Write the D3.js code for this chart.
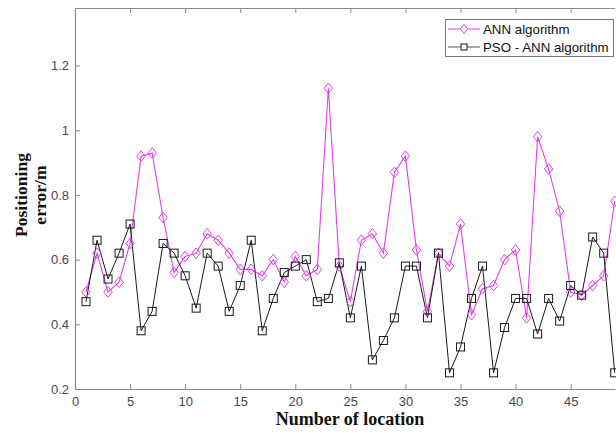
<!DOCTYPE html>
<html>
<head>
<meta charset="utf-8">
<script src="https://cdn.jsdelivr.net/npm/d3@7"></script>
<style>
  body { margin: 0; background: #fff; }
  svg { display: block; }
</style>
</head>
<body>
<svg id="chart" width="616" height="433"></svg>
<script>
// positioning error per location
const locations = d3.range(1, 50);
const annError = [0.50, 0.62, 0.50, 0.53, 0.65, 0.92, 0.93, 0.73, 0.56, 0.61,
                  0.62, 0.68, 0.66, 0.62, 0.57, 0.57, 0.55, 0.60, 0.53, 0.61,
                  0.55, 0.57, 1.13, 0.58, 0.47, 0.66, 0.68, 0.62, 0.87, 0.92,
                  0.63, 0.44, 0.62, 0.58, 0.71, 0.43, 0.51, 0.52, 0.60, 0.63,
                  0.42, 0.98, 0.88, 0.75, 0.50, 0.49, 0.52, 0.55, 0.78];
const psoError = [0.47, 0.66, 0.54, 0.62, 0.71, 0.38, 0.44, 0.65, 0.62, 0.55,
                  0.45, 0.62, 0.58, 0.44, 0.52, 0.66, 0.38, 0.48, 0.56, 0.58,
                  0.60, 0.47, 0.48, 0.59, 0.42, 0.58, 0.29, 0.35, 0.42, 0.58,
                  0.58, 0.42, 0.62, 0.25, 0.33, 0.48, 0.58, 0.25, 0.39, 0.48,
                  0.48, 0.37, 0.48, 0.41, 0.52, 0.49, 0.67, 0.62, 0.25];
const xTicks = [0, 5, 10, 15, 20, 25, 30, 35, 40, 45];
const yTicks = [0.2, 0.4, 0.6, 0.8, 1, 1.2];
const seriesNames = ['ANN algorithm', 'PSO - ANN algorithm'];

const svg = d3.select('#chart');
const plotL = 75, plotT = 8, plotR = 614.7, plotB = 389;

const x = d3.scaleLinear().domain([0, 49]).range([plotL, plotR]);
const y = d3.scaleLinear().domain([0.2, 1.378]).range([plotB, plotT]);

const axisCol = '#8a8a8a', labelCol = '#4a4a4a';

// axes
const gx = svg.append('g').attr('transform', `translate(0,${plotB})`)
    .call(d3.axisBottom(x).tickValues(xTicks).tickSizeInner(-5).tickSizeOuter(0).tickPadding(8));
const gy = svg.append('g').attr('transform', `translate(${plotL},0)`)
    .call(d3.axisLeft(y).tickValues(yTicks).tickFormat(d3.format('~g')).tickSizeInner(-5).tickSizeOuter(0).tickPadding(6));
const gt = svg.append('g').attr('transform', `translate(0,${plotT})`)
    .call(d3.axisTop(x).tickValues(xTicks).tickSizeInner(-5).tickSizeOuter(0).tickFormat(''));

[gx, gy, gt].forEach(g => {
  g.select('.domain').attr('stroke', axisCol).attr('stroke-width', 1.2);
  g.selectAll('.tick line').attr('stroke', axisCol);
  g.selectAll('.tick text').attr('fill', labelCol)
    .style('font-family', 'Liberation Sans, Arial, sans-serif').style('font-size', '13px');
});
gt.selectAll('.tick').filter(d => d === 0).remove();

// lines
const line = d3.line().x((d, i) => x(locations[i])).y(d => y(d));

const annCol = '#e040e8', psoCol = '#1a1a1a';

svg.append('path').datum(annError).attr('d', line)
  .attr('fill', 'none').attr('stroke', annCol).attr('stroke-width', 1.1);
svg.append('path').datum(psoError).attr('d', line)
  .attr('fill', 'none').attr('stroke', psoCol).attr('stroke-width', 1);

const diamond = (cx, cy, s) => `M${cx},${cy - s}L${cx + s * 0.8},${cy}L${cx},${cy + s}L${cx - s * 0.8},${cy}Z`;

svg.append('g').selectAll('path').data(annError).enter().append('path')
  .attr('d', (d, i) => diamond(x(locations[i]), y(d), 5.3))
  .attr('fill', 'none').attr('stroke', annCol).attr('stroke-width', 1);

svg.append('g').selectAll('rect').data(psoError).enter().append('rect')
  .attr('x', (d, i) => x(locations[i]) - 4).attr('y', d => y(d) - 4)
  .attr('width', 8).attr('height', 8)
  .attr('fill', 'none').attr('stroke', psoCol).attr('stroke-width', 1);

// legend
const lg = svg.append('g');
lg.append('rect').attr('x', 445.5).attr('y', 19.5).attr('width', 168).attr('height', 37)
  .attr('fill', '#fff').attr('stroke', '#777').attr('stroke-width', 1);
seriesNames.forEach((name, i) => {
  const ly = 29 + i * 18;
  const col = i === 0 ? annCol : psoCol;
  lg.append('line').attr('x1', 448).attr('x2', 480).attr('y1', ly).attr('y2', ly)
    .attr('stroke', i === 0 ? annCol : '#555').attr('stroke-width', 1);
  if (i === 0) {
    lg.append('path').attr('d', diamond(464, ly, 4.5)).attr('fill', '#fff').attr('stroke', col);
  } else {
    lg.append('rect').attr('x', 461).attr('y', ly - 3).attr('width', 6).attr('height', 6)
      .attr('fill', '#fff').attr('stroke', col);
  }
  lg.append('text').attr('x', 483).attr('y', ly + 5).text(name)
    .style('font-family', 'Liberation Sans, Arial, sans-serif').style('font-size', '13.3px').attr('fill', '#111');
});

// axis titles
svg.append('text').attr('x', 350).attr('y', 425).attr('text-anchor', 'middle')
  .style('font-family', 'Liberation Serif, Times New Roman, serif').style('font-weight', 'bold')
  .style('font-size', '18px').attr('fill', '#111').text('Number of location');

const yl = svg.append('text').attr('transform', 'translate(0,195) rotate(-90)')
  .attr('text-anchor', 'middle')
  .style('font-family', 'Liberation Serif, Times New Roman, serif').style('font-weight', 'bold')
  .style('font-size', '17.6px').attr('fill', '#111');
yl.append('tspan').attr('x', 0).attr('y', 27).text('Positioning');
yl.append('tspan').attr('x', 0).attr('y', 46).text('error/m');
</script>
</body>
</html>
